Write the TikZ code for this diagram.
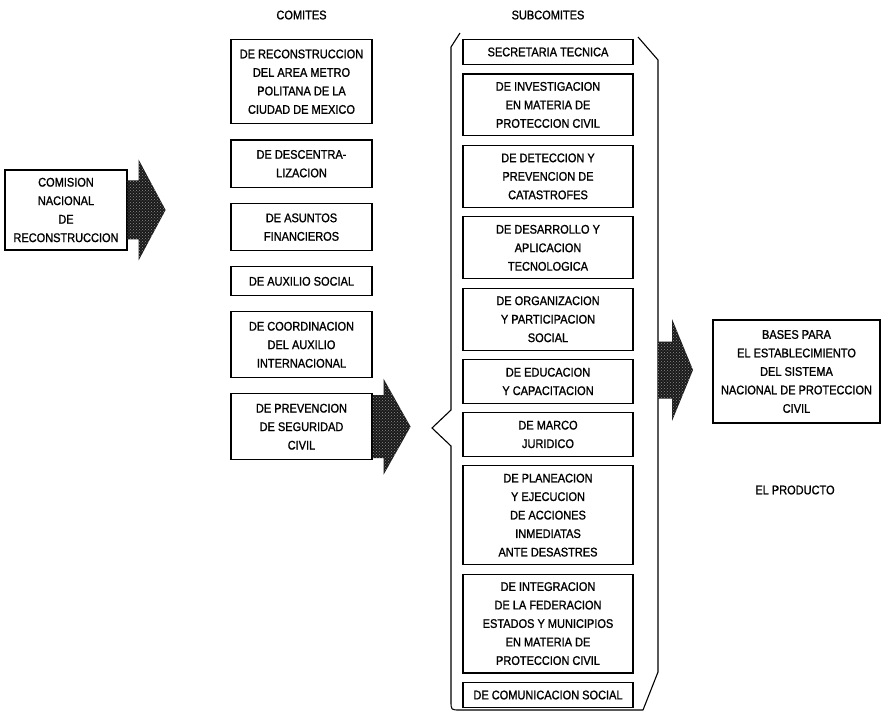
\documentclass[tikz,border=0pt]{standalone}
\usepackage{fontspec}
\newfontfamily\scanfont[FakeStretch=0.88,FakeBold=1.2]{Liberation Sans}
\usetikzlibrary{positioning,chains,calc,patterns}

\begin{document}
\begin{tikzpicture}[x=1pt,y=1pt,
          box/.style={draw,line width=1.1pt,align=center,
            font=\scanfont\fontsize{12.5}{18.5}\selectfont},
          cnode/.style={box,minimum width=141pt,inner ysep=10pt,anchor=north},
          snode/.style={box,minimum width=170pt,inner ysep=8pt,anchor=north},
          head/.style={font=\scanfont\fontsize{12.5}{15}\selectfont},
          pointer/.style={preaction={fill=black!90},pattern=crosshatch dots,
            pattern color=white!55!black}
          ]
          \useasboundingbox (0,0) rectangle (881,-714);
          % the commission
          \node[box,minimum width=122pt,minimum height=80pt] (cnr) at (66,-210)
            {COMISION\\NACIONAL\\DE\\RECONSTRUCCION};
          % the comites
          \begin{scope}[shift={(301.5,-39)},start chain=going below,node distance=15pt]
            \foreach \i/\txt in {1/{DE RECONSTRUCCION\\DEL AREA METRO\\POLITANA DE LA\\CIUDAD DE MEXICO},
                2/{DE DESCENTRA-\\LIZACION}, 3/{DE ASUNTOS\\FINANCIEROS}, 4/{DE AUXILIO SOCIAL},
                5/{DE COORDINACION\\DEL AUXILIO\\INTERNACIONAL}, 6/{DE PREVENCION\\DE SEGURIDAD\\CIVIL}}
            \node[cnode,on chain] (c\i) {\txt};
          \end{scope}
          % the subcomites
          \begin{scope}[shift={(548,-39)},start chain=going below,node distance=8.5pt]
            \foreach \i/\txt in {1/{SECRETARIA TECNICA}, 2/{DE INVESTIGACION\\EN MATERIA DE\\PROTECCION CIVIL},
                3/{DE DETECCION Y\\PREVENCION DE\\CATASTROFES}, 4/{DE DESARROLLO Y\\APLICACION\\TECNOLOGICA},
                5/{DE ORGANIZACION\\Y PARTICIPACION\\SOCIAL}, 6/{DE EDUCACION\\Y CAPACITACION},
                7/{DE MARCO\\JURIDICO}, 8/{DE PLANEACION\\Y EJECUCION\\DE ACCIONES\\INMEDIATAS\\ANTE DESASTRES},
                9/{DE INTEGRACION\\DE LA FEDERACION\\ESTADOS Y MUNICIPIOS\\EN MATERIA DE\\PROTECCION CIVIL},
                10/{DE COMUNICACION SOCIAL}}
            \node[snode,on chain] (s\i) {\txt};
          \end{scope}
          % the headings
          \node[head,above=16pt of c1] (comites) {COMITES};
          \node[head,above=16pt of s1] (subcomites) {SUBCOMITES};
          % the bracket round the subcomites
          \draw[line width=1.1pt,line join=round] (460,-33) -- (451,-47) -- (451,-410) -- (432,-428)
            -- (451,-446) -- (451,-701) .. controls (451,-710) .. (460,-710) -- (643,-710)
            -- (658,-672) -- (658,-60) -- (638,-37);
          \coordinate (brk) at (658,-370);
          % the product
          \node[box,minimum width=167pt,minimum height=103pt] (bases) at (796.5,-371.5)
            {BASES PARA\\EL ESTABLECIMIENTO\\DEL SISTEMA\\NACIONAL DE PROTECCION\\CIVIL};
          \node[head] (prod) at (795,-490) {EL PRODUCTO};
          % the arrows
          \path[pointer] (cnr.east) ++(0,29.5) -- ++(11,0) -- ++(0,21) -- ++(27,-50.5)
            -- ++(-27,-50.5) -- ++(0,21) -- ++(-11,0) -- cycle;
          \path[pointer] (c6.east) ++(0,31.5) -- ++(11,0) -- ++(0,16.5) -- ++(27,-48)
            -- ++(-27,-48) -- ++(0,16.5) -- ++(-11,0) -- cycle;
          \path[pointer] (brk) ++(0,28.5) -- ++(14,0) -- ++(0,22.5) -- ++(21,-51)
            -- ++(-21,-51) -- ++(0,22.5) -- ++(-14,0) -- cycle;
        \end{tikzpicture}
\end{document}
